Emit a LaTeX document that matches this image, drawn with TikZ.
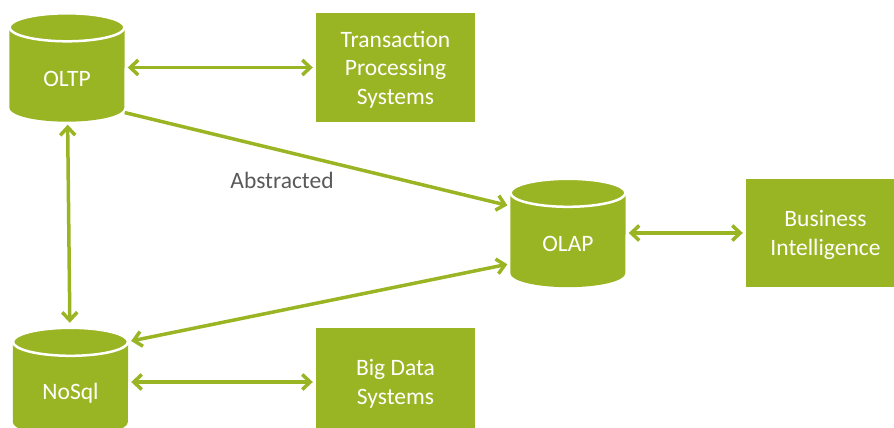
\documentclass[tikz,border=0pt]{standalone}
\usepackage{fontspec}
\setmainfont{Carlito}
\usetikzlibrary{arrows.meta}
\definecolor{dbgreen}{RGB}{154,181,36}
\definecolor{lblgrey}{RGB}{89,89,89}
\tikzset{bigfont/.style = {font=\fontsize{23.5}{28.5}\selectfont}}
\tikzset{db/.style = {minimum width=115pt, minimum height=108pt, inner sep=0pt}}
\tikzset{dbtext/.style = {text=white, bigfont}}
\tikzset{sys/.style = {fill=dbgreen, minimum width=159pt, minimum height=108pt, text depth=0pt, text=white, align=center, bigfont}}
\tikzset{link/.style = {draw=dbgreen, line width=3.5pt, shorten >=3pt, shorten <=3pt}}
\newcommand\dbcyl[1]{%
  \fill[dbgreen] ([yshift=-14pt]#1.north west) -- ([yshift=14pt]#1.south west)
    arc[start angle=180, end angle=360, x radius=57.5pt, y radius=14pt]
    -- ([yshift=-14pt]#1.north east) -- cycle;
  \draw[white, line width=2.5pt, fill=dbgreen] ([yshift=-14pt]#1.north) ellipse [x radius=57.5pt, y radius=14pt];
}

\begin{document}
\begin{tikzpicture}[x=1pt, y=-1pt, >={Straight Barb[length=8pt, width=15pt]}]
\useasboundingbox (0,0) rectangle (894,428);
\node [db] (oltp) at (67,67.5) {};
\node [db] (olap) at (568,233) {};
\node [db] (nosql) at (70.5,382) {};
\dbcyl{oltp}
\dbcyl{olap}
\dbcyl{nosql}
\node [dbtext] (oltp-t) at ([yshift=-11pt]oltp.center) {OLTP};
\node [dbtext] (olap-t) at ([yshift=-11pt]olap.center) {OLAP};
\node [dbtext] (nosql-t) at ([yshift=-11pt]nosql.center) {NoSql};
\node [sys] (tps) at (395.5,67.5) {Transaction\\Processing\\Systems};
\node [sys] (bi) at (825.5,233) {Business\\Intelligence};
\node [sys] (bigdata) at (395.5,382) {Big Data\\Systems};
\node [text=lblgrey, bigfont] (abstracted) at (282,180) {Abstracted};
\draw [link, <->] (oltp) -- (tps);
\draw [link, <->] (olap) -- (bi);
\draw [link, <->] (nosql) -- (bigdata);
\draw [link, <->, shorten >=5pt] (oltp) -- (nosql);
\draw [link, ->, shorten <=0pt] (oltp.-38) -- (olap.155);
\draw [link, <->] (olap.208) -- (nosql.35);
\end{tikzpicture}
\end{document}
